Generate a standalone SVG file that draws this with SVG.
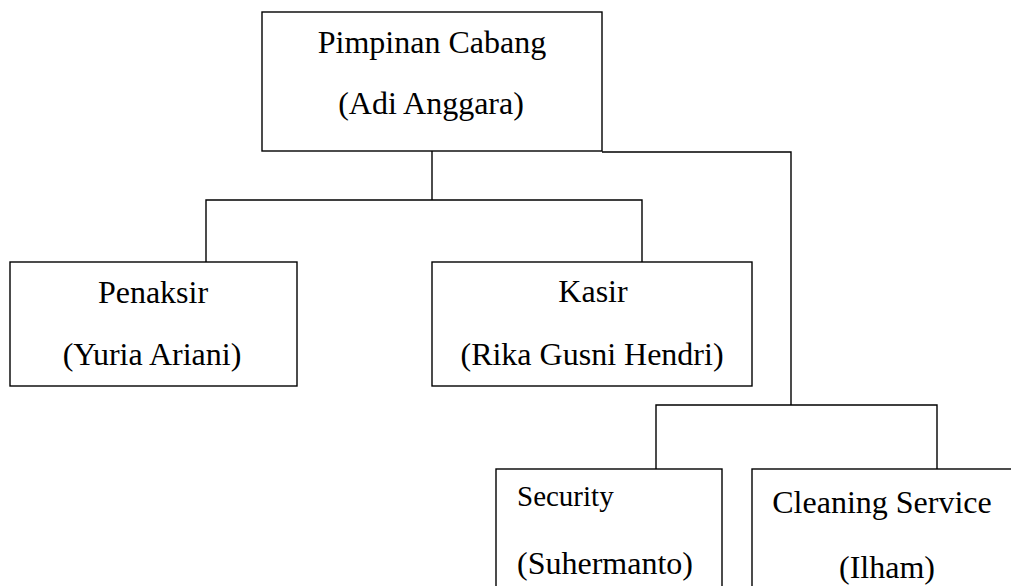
<svg xmlns="http://www.w3.org/2000/svg" width="1011" height="586" viewBox="0 0 1011 586">
<style>
.box{fill:#fff;stroke:#000;stroke-width:1.4}
.ln{fill:none;stroke:#000;stroke-width:1.4}
text{font-family:"Liberation Serif","Times New Roman",serif;font-size:32px;fill:#000}
.c{text-anchor:middle}
.s{font-size:29px}
</style>
<rect width="1011" height="586" fill="#fff"/>
<g id="connectors">
<polyline class="ln" points="432,151 432,200"/>
<polyline class="ln" points="206,262 206,200 642,200 642,262"/>
<polyline class="ln" points="602,152 791,152 791,405"/>
<polyline class="ln" points="656,469 656,405 937,405 937,469"/>
</g>
<g id="node-pimpinan">
<rect class="box" x="262" y="12" width="340" height="139"/>
<text class="c" x="432" y="53">Pimpinan Cabang</text>
<text class="c" x="431" y="114">(Adi Anggara)</text>
</g>
<g id="node-penaksir">
<rect class="box" x="10" y="262" width="287" height="124"/>
<text class="c" x="153" y="303">Penaksir</text>
<text class="c" x="152" y="365">(Yuria Ariani)</text>
</g>
<g id="node-kasir">
<rect class="box" x="432" y="262" width="320" height="124"/>
<text class="c" x="593" y="302">Kasir</text>
<text class="c" x="592" y="365">(Rika Gusni Hendri)</text>
</g>
<g id="node-security">
<rect class="box" x="496" y="469" width="226" height="130"/>
<text class="s" x="517" y="506">Security</text>
<text x="517" y="574">(Suhermanto)</text>
</g>
<g id="node-cleaning">
<rect class="box" x="752" y="469" width="270" height="130"/>
<text class="c" x="882" y="513">Cleaning Service</text>
<text class="c" x="887" y="578">(Ilham)</text>
</g>
</svg>
